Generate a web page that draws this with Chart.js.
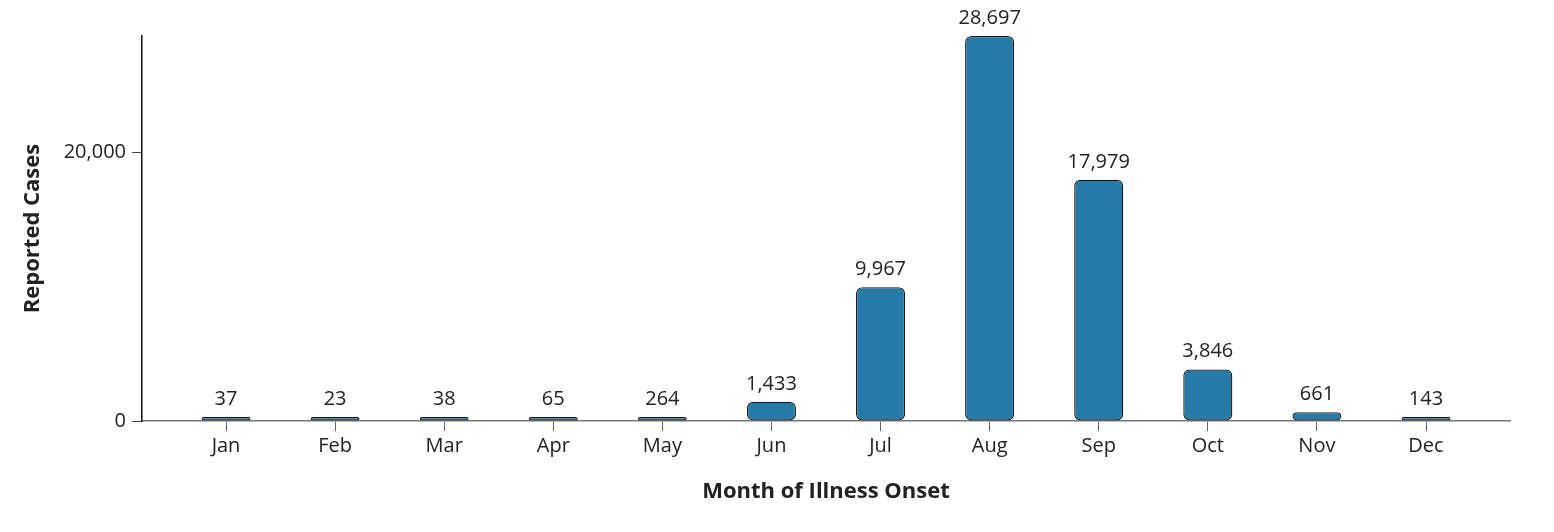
<!DOCTYPE html>
<html>
<head>
<meta charset="utf-8">
<script src="https://cdn.jsdelivr.net/npm/chart.js@4.4.1/dist/chart.umd.min.js"></script>
<style>
  html, body { margin: 0; padding: 0; background: #fff; }
  #wrap { width: 1554px; height: 532px; position: relative; }
</style>
</head>
<body>
<div id="wrap"><canvas id="c"></canvas></div>
<script>
const months = ['Jan','Feb','Mar','Apr','May','Jun','Jul','Aug','Sep','Oct','Nov','Dec'];
const cases = [37, 23, 38, 65, 264, 1433, 9967, 28697, 17979, 3846, 661, 143];
const yTicks = [0, 20000];
const xTitle = 'Month of Illness Onset';
const yTitle = 'Reported Cases';

const FONT = '"Open Sans", "Noto Sans", sans-serif';
const TEXT = '#222222';

const labelPlugin = {
  id: 'barLabels',
  afterDatasetsDraw(chart) {
    const ctx = chart.ctx;
    const meta = chart.getDatasetMeta(0);
    ctx.save();
    ctx.font = '20px ' + FONT;
    ctx.fillStyle = TEXT;
    ctx.textAlign = 'center';
    ctx.textBaseline = 'alphabetic';
    meta.data.forEach((bar, i) => {
      ctx.fillText(cases[i].toLocaleString('en-US'), bar.x, bar.y - 12);
    });
    ctx.restore();
  }
};

new Chart(document.getElementById('c'), {
  type: 'bar',
  data: {
    datasets: [{
      data: cases.map((v, i) => ({ x: i, y: v })),
      backgroundColor: '#267aa8',
      borderColor: '#1b1b1b',
      borderWidth: 1.3,
      borderRadius: 6,
      borderSkipped: false,
      minBarLength: 4,
      barPercentage: 0.45,
      categoryPercentage: 1.0
    }]
  },
  options: {
    responsive: true,
    maintainAspectRatio: false,
    animation: false,
    layout: { padding: { top: 36, right: 44, left: 0, bottom: 0 } },
    plugins: { legend: { display: false }, tooltip: { enabled: false } },
    scales: {
      x: {
        type: 'linear',
        offset: false,
        min: -0.77,
        max: 11.77,
        afterBuildTicks(scale) { scale.ticks = months.map((m, i) => ({ value: i })); },
        afterFit(scale) { scale.height = 111; },
        ticks: {
          autoSkip: false,
          maxRotation: 0,
          padding: 3,
          color: TEXT,
          font: { family: FONT, size: 20 },
          callback: (v) => months[v] ?? ''
        },
        grid: {
          display: true,
          offset: false,
          drawOnChartArea: false,
          drawTicks: true,
          tickLength: 10,
          color: '#666666',
          lineWidth: 1
        },
        border: { display: true, color: '#777777', width: 1.5 },
        title: {
          display: true,
          text: xTitle,
          color: TEXT,
          font: { family: FONT, size: 22, weight: 'bold' },
          padding: { top: 12, bottom: 27 }
        }
      },
      y: {
        type: 'linear',
        min: 0,
        max: Math.max(...cases),
        afterBuildTicks(scale) { scale.ticks = yTicks.map(v => ({ value: v })); },
        afterFit(scale) { scale.width = 142; },
        ticks: {
          padding: 6,
          color: TEXT,
          font: { family: FONT, size: 20 },
          callback: (v) => Number(v).toLocaleString('en-US')
        },
        grid: {
          display: true,
          drawOnChartArea: false,
          drawTicks: true,
          tickLength: 10,
          color: '#444444',
          lineWidth: 1
        },
        border: { display: true, color: '#111111', width: 1.5 },
        title: {
          display: true,
          text: yTitle,
          color: TEXT,
          font: { family: FONT, size: 22, weight: 'bold' },
          padding: { top: 20, bottom: 0 }
        }
      }
    }
  },
  plugins: [labelPlugin]
});
</script>
</body>
</html>
